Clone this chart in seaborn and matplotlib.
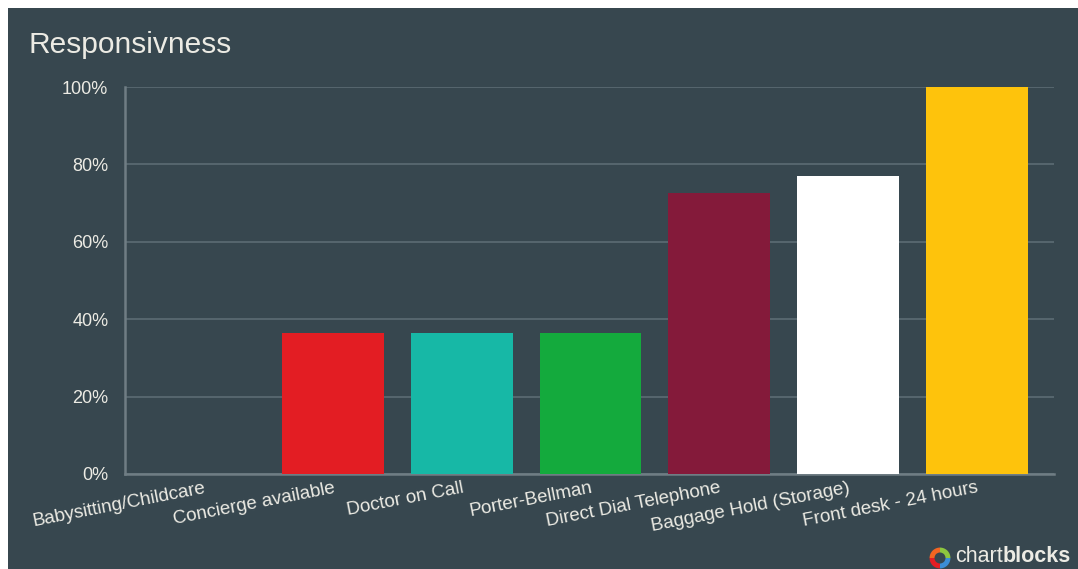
import matplotlib
matplotlib.use("Agg")
import matplotlib.pyplot as plt
from matplotlib.patches import Rectangle, Wedge
import seaborn as sns
import pandas as pd

# Data
categories = [
    "Babysitting/Childcare",
    "Concierge available",
    "Doctor on Call",
    "Porter-Bellman",
    "Direct Dial Telephone",
    "Baggage Hold (Storage)",
    "Front desk - 24 hours",
]
values = [0, 36.4, 36.4, 36.4, 72.7, 77.0, 100]
colors = ["#3b8ed6", "#e31d23", "#17b8a6", "#14aa3d", "#841a3a", "#ffffff", "#fec30c"]
y_ticks = [0, 20, 40, 60, 80, 100]
y_tick_labels = ["0%", "20%", "40%", "60%", "80%", "100%"]

BG = "#37474f"
TXT = "#ecebe4"
GRID = "#56666e"
SPINE = "#6f7d84"

df = pd.DataFrame({"category": categories, "value": values})

sns.set_theme(style="dark")
plt.rcParams["font.family"] = ["Liberation Sans", "DejaVu Sans"]

W, H = 1078, 569
fig = plt.figure(figsize=(W / 100, H / 100), dpi=100, facecolor="white")
fig.patches.append(Rectangle((8 / W, 0), 1 - 8 / W, 1 - 8 / H,
                             transform=fig.transFigure, facecolor=BG,
                             edgecolor="none", zorder=-10))

ax = fig.add_axes([125 / W, (H - 474) / H, (1054 - 125) / W, (474 - 87) / H])
ax.set_facecolor(BG)

sns.barplot(data=df, x="category", y="value", hue="category",
            palette=colors, order=categories, hue_order=categories,
            width=0.79, saturation=1, legend=False, ax=ax, zorder=3,
            edgecolor="none", linewidth=0)

ax.set_xlim(-0.615, 6.6)
ax.set_ylim(0, 100)
ax.set_yticks(y_ticks)
ax.set_yticklabels(y_tick_labels, color=TXT, fontsize=13)
ax.yaxis.grid(True, color=GRID, linewidth=1.4, zorder=0)
ax.xaxis.grid(False)
ax.tick_params(axis="both", length=0)
ax.tick_params(axis="y", pad=12)
ax.tick_params(axis="x", pad=4)
ax.set_xlabel("")
ax.set_ylabel("")

ax.set_xticks(range(len(categories)))
ax.set_xticklabels(categories, rotation=11, ha="right", rotation_mode="anchor",
                   color=TXT, fontsize=13.5)

for side in ["top", "right"]:
    ax.spines[side].set_visible(False)
for side in ["left", "bottom"]:
    ax.spines[side].set_visible(True)
    ax.spines[side].set_color(SPINE)
    ax.spines[side].set_linewidth(1.8)

fig.text(28 / W, 1 - 45 / H, "Responsivness", color=TXT, fontsize=21.5,
         va="center", ha="left")

# chartblocks mark
logo_ax = fig.add_axes([929 / W, (H - 569) / H, 22 / W, 22 / H])
logo_ax.set_xlim(-1, 1)
logo_ax.set_ylim(-1, 1)
logo_ax.set_aspect("equal")
logo_ax.axis("off")
ring = [("#f26522", 90, 180), ("#e31d23", 180, 270), ("#3b8ed6", 270, 360), ("#8dc63f", 0, 90)]
for c, a0, a1 in ring:
    logo_ax.add_patch(Wedge((0, 0), 0.95, a0, a1, width=0.45, facecolor=c, edgecolor="none"))
t1 = fig.text(955 / W, 1 - 557 / H, "chart", color=TXT, fontsize=15.5, va="center", ha="left")
fig.canvas.draw()
bb = t1.get_window_extent()
fig.text(bb.x1 / W, 1 - 557 / H, "blocks", color=TXT, fontsize=15.5,
         fontweight="bold", va="center", ha="left")

fig.savefig("out.png", dpi=100, facecolor=fig.get_facecolor())
